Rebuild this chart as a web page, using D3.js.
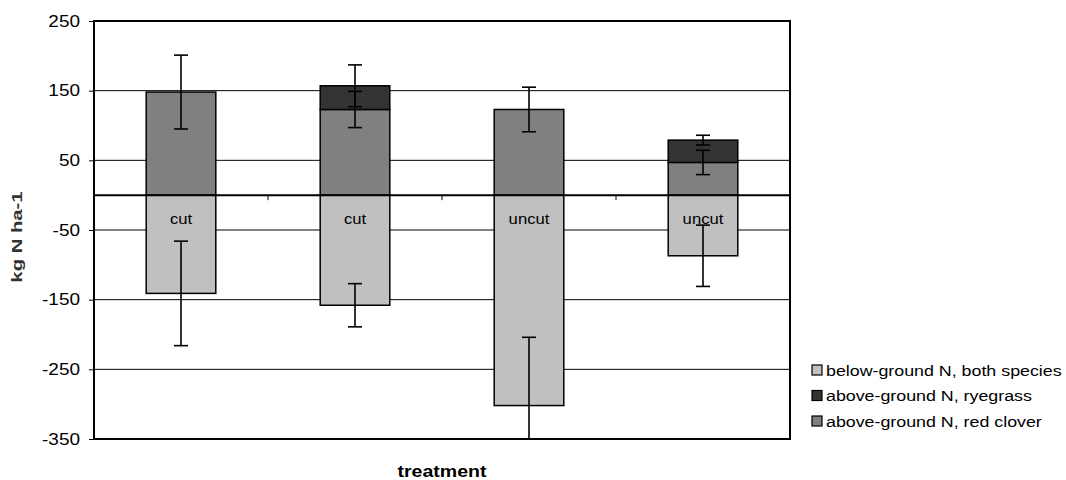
<!DOCTYPE html>
<html>
<head>
<meta charset="utf-8">
<script src="https://cdn.jsdelivr.net/npm/d3@7"></script>
<style>
  html, body { margin: 0; padding: 0; background: #fff; }
  svg { display: block; font-family: Arial, 'Liberation Sans', sans-serif; }
</style>
</head>
<body>
<svg id="chart" width="1066" height="480"></svg>
<script>
'use strict';

// ---- data ----
const treatments = ['cut', 'cut', 'uncut', 'uncut'];
const redClover = [148, 123, 123, 47];
const ryegrass = [0, 34, 0, 32];
const belowGround = [-141, -158, -302, -87];
const redCloverErr = [53, 26, 32, 17.5];
const aboveTotalErr = [null, 30, null, 7];
const belowErr = [75, 31, 98, 44];
const yTicks = [250, 150, 50, -50, -150, -250, -350];
const legendLabels = ['below-ground N, both species', 'above-ground N, ryegrass', 'above-ground N, red clover'];
const legendColors = ['#c0c0c0', '#333333', '#808080'];

const svg = d3.select('#chart');
const plot = { left: 94, top: 21, right: 790, bottom: 439 };
const sx = 1.15; // the original text is a bit stretched sideways

const x = d3.scaleBand()
  .domain(d3.range(treatments.length))
  .range([plot.left, plot.right])
  .paddingInner(0.6)
  .paddingOuter(0.3);

const y = d3.scaleLinear()
  .domain([-350, 250])
  .range([plot.bottom, plot.top]);

const step = x.step();
const cx = i => x(i) + x.bandwidth() / 2;

// clip for things that run past the plot area
svg.append('clipPath').attr('id', 'plotclip')
  .append('rect')
  .attr('x', plot.left).attr('y', plot.top)
  .attr('width', plot.right - plot.left).attr('height', plot.bottom - plot.top);

// gridlines
svg.append('g')
  .selectAll('line')
  .data(yTicks.filter(t => t !== 250 && t !== -350))
  .join('line')
  .attr('x1', plot.left).attr('x2', plot.right)
  .attr('y1', d => y(d)).attr('y2', d => y(d))
  .attr('stroke', '#000').attr('stroke-width', 1);

// y axis
const yAxis = svg.append('g')
  .attr('transform', `translate(${plot.left},0)`)
  .call(d3.axisLeft(y).tickValues(yTicks).tickSize(5).tickFormat(d => String(d)));
yAxis.select('.domain').remove();
yAxis.selectAll('line').attr('stroke', '#000');
yAxis.selectAll('text')
  .attr('x', -14 / sx)
  .attr('transform', `scale(${sx},1)`)
  .attr('font-size', 16.5)
  .attr('fill', '#000')
  .style('font-family', "Arial, 'Liberation Sans', sans-serif");

// bars
const bars = svg.append('g').attr('stroke', '#000').attr('stroke-width', 1.5);

bars.selectAll('.below')
  .data(belowGround)
  .join('rect')
  .attr('class', 'below')
  .attr('x', (d, i) => x(i))
  .attr('width', x.bandwidth())
  .attr('y', y(0))
  .attr('height', d => y(d) - y(0))
  .attr('fill', legendColors[0]);

bars.selectAll('.clover')
  .data(redClover)
  .join('rect')
  .attr('class', 'clover')
  .attr('x', (d, i) => x(i))
  .attr('width', x.bandwidth())
  .attr('y', d => y(d))
  .attr('height', d => y(0) - y(d))
  .attr('fill', legendColors[2]);

bars.selectAll('.rye')
  .data(ryegrass.map((v, i) => ({ v, i })).filter(d => d.v > 0))
  .join('rect')
  .attr('class', 'rye')
  .attr('x', d => x(d.i))
  .attr('width', x.bandwidth())
  .attr('y', d => y(redClover[d.i] + d.v))
  .attr('height', d => y(redClover[d.i]) - y(redClover[d.i] + d.v))
  .attr('fill', legendColors[1]);

// category axis at zero
svg.append('line')
  .attr('x1', plot.left).attr('x2', plot.right)
  .attr('y1', y(0)).attr('y2', y(0))
  .attr('stroke', '#000').attr('stroke-width', 2);
svg.append('g')
  .selectAll('line')
  .data(d3.range(1, treatments.length))
  .join('line')
  .attr('x1', i => plot.left + i * step).attr('x2', i => plot.left + i * step)
  .attr('y1', y(0)).attr('y2', y(0) + 5)
  .attr('stroke', '#000');

// treatment labels inside the below-ground bars
svg.append('g')
  .selectAll('text')
  .data(treatments)
  .join('text')
  .attr('transform', (d, i) => `translate(${cx(i)},${y(0) + 29}) scale(${sx},1)`)
  .attr('text-anchor', 'middle')
  .attr('font-size', 14.5)
  .attr('fill', '#000')
  .text(d => d);

// error bars
const errs = [];
redClover.forEach((v, i) => errs.push({ i, c: v, e: redCloverErr[i] }));
ryegrass.forEach((v, i) => { if (aboveTotalErr[i] != null) errs.push({ i, c: redClover[i] + v, e: aboveTotalErr[i] }); });
belowGround.forEach((v, i) => errs.push({ i, c: v, e: belowErr[i] }));

const eb = svg.append('g')
  .attr('clip-path', 'url(#plotclip)')
  .attr('stroke', '#000').attr('stroke-width', 1.6);
const capW = 7;
eb.selectAll('.stem').data(errs).join('line')
  .attr('x1', d => cx(d.i)).attr('x2', d => cx(d.i))
  .attr('y1', d => y(d.c + d.e)).attr('y2', d => y(d.c - d.e));
eb.selectAll('.capTop').data(errs).join('line')
  .attr('x1', d => cx(d.i) - capW).attr('x2', d => cx(d.i) + capW)
  .attr('y1', d => y(d.c + d.e)).attr('y2', d => y(d.c + d.e));
eb.selectAll('.capBot').data(errs).join('line')
  .attr('x1', d => cx(d.i) - capW).attr('x2', d => cx(d.i) + capW)
  .attr('y1', d => y(d.c - d.e)).attr('y2', d => y(d.c - d.e));

// plot frame
svg.append('rect')
  .attr('x', plot.left).attr('y', plot.top)
  .attr('width', plot.right - plot.left).attr('height', plot.bottom - plot.top)
  .attr('fill', 'none').attr('stroke', '#000').attr('stroke-width', 2);

// axis titles
svg.append('text')
  .attr('transform', `translate(${(plot.left + plot.right) / 2},477) scale(${sx},1)`)
  .attr('text-anchor', 'middle')
  .attr('font-size', 17)
  .attr('font-weight', 'bold')
  .text('treatment');

svg.append('text')
  .attr('transform', `translate(22,237) rotate(-90) scale(1.45,1)`)
  .attr('text-anchor', 'middle')
  .attr('font-size', 14)
  .attr('font-weight', 'bold')
  .attr('fill', '#333')
  .text('kg N ha-1');

// legend
const legend = svg.append('g')
  .selectAll('g')
  .data(legendLabels)
  .join('g')
  .attr('transform', (d, i) => `translate(812,${370 + i * 25.5})`);
legend.append('rect')
  .attr('x', 0).attr('y', -5)
  .attr('width', 10).attr('height', 10)
  .attr('fill', (d, i) => legendColors[i])
  .attr('stroke', '#000').attr('stroke-width', 1.2);
legend.append('text')
  .attr('transform', `translate(14,0) scale(${sx},1)`)
  .attr('dy', '0.36em')
  .attr('font-size', 15.5)
  .text(d => d);
</script>
</body>
</html>
